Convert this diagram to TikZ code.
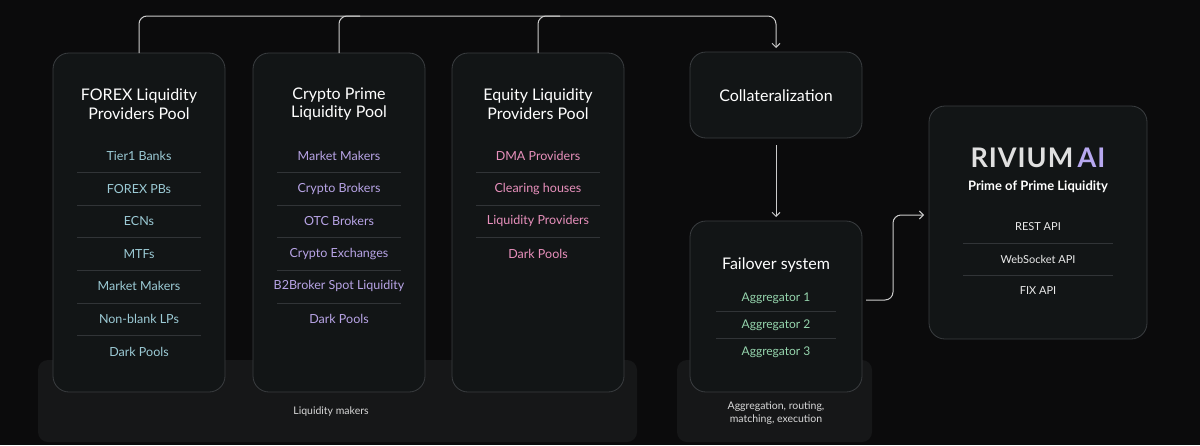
\documentclass[tikz,border=0pt]{standalone}
\usepackage{fontspec}
\setmainfont{Lato}
\usetikzlibrary{positioning, calc, arrows.meta}

\definecolor{bgc}{HTML}{0B0B0C}
\definecolor{bandc}{HTML}{161718}
\definecolor{boxc}{HTML}{121516}
\definecolor{edgec}{HTML}{3A3D40}
\definecolor{sepc}{HTML}{313437}
\definecolor{fxc}{HTML}{9CCBD6}
\definecolor{crc}{HTML}{B8A4E6}
\definecolor{eqc}{HTML}{E890BC}
\definecolor{agc}{HTML}{96D6AE}
\definecolor{aic}{HTML}{B7A8F0}

\tikzset{
  panel/.style={draw=edgec, line width=0.8pt, fill=boxc, rounded corners=16pt},
  band/.style={fill=bandc, rounded corners=10pt},
  title/.style={text=white, font=\fontsize{16}{18.5}\selectfont, align=center},
  item/.style={font=\fontsize{12.5}{14}\selectfont},
  note/.style={text=white!85!black, font=\fontsize{10.5}{12.5}\selectfont, align=center},
  link/.style={draw=white!80!black, line width=1pt, rounded corners=8pt},
}

\newcommand{\itemlist}[4]{% x, colour, prefix, list
  \foreach \t [count=\k] in {#4} {
    \node[item, text=#2] (#3\k) at (#1, {156+(\k-1)*32.6}) {\t};
  }
}

\begin{document}
\begin{tikzpicture}[x=1pt, y=-1pt]
        % Background
        \fill[bgc] (0,0) rectangle (1200,445);
        \useasboundingbox (0,0) rectangle (1200,445);

        % Bands
        \fill[band] (38,360) rectangle (637,442);
        \fill[band] (677,360) rectangle (872,442);
        \node[note] (makers) at (331,412) {Liquidity makers};
        \node[note] (aggnote) at (776,413) {Aggregation, routing,\\matching, execution};

        % Pools
        \draw[panel] (53,53) rectangle (225,392);
        \draw[panel] (253,53) rectangle (425,392);
        \draw[panel] (452,53) rectangle (624,392);
        \coordinate (fx) at (139,53);
        \coordinate (cr) at (339,53);
        \coordinate (eq) at (538,53);
        \node[title] (fxtitle) at (139,104) {FOREX Liquidity\\Providers Pool};
        \node[title] (crtitle) at (339,104) {Crypto Prime\\Liquidity Pool};
        \node[title] (eqtitle) at (538,104) {Equity Liquidity\\Providers Pool};

        \itemlist{139}{fxc}{fxi}{Tier1 Banks, FOREX PBs, ECNs, MTFs, Market Makers, Non-blank LPs, Dark Pools}
        \itemlist{339}{crc}{cri}{Market Makers, Crypto Brokers, OTC Brokers, Crypto Exchanges, B2Broker Spot Liquidity, Dark Pools}
        \itemlist{538}{eqc}{eqi}{DMA Providers, Clearing houses, Liquidity Providers, Dark Pools}

        % Separators
        \foreach \x/\n in {139/6, 339/5, 538/3} {
          \foreach \k in {1,...,\n} {
            \draw[sepc] (\x-62, {172.3+(\k-1)*32.6}) -- (\x+62, {172.3+(\k-1)*32.6});
          }
        }

        % Right side
        \draw[panel] (690,52) rectangle (862,138);
        \node[title] (coll) at (776,96) {Collateralization};
        \coordinate (collT) at (776,52);
        \coordinate (collB) at (776,145);

        \draw[panel] (690,221) rectangle (862,392);
        \node[title] (fail) at (776,265) {Failover system};
        \coordinate (failT) at (776,217);
        \coordinate (failR) at (866,300);
        \foreach \t [count=\k] in {Aggregator 1, Aggregator 2, Aggregator 3} {
          \node[item, text=agc, font=\fontsize{12}{13}\selectfont] (agg\k) at (776, {298+(\k-1)*27}) {\t};
        }
        \foreach \k in {1,2} {
          \draw[sepc] (716, {311.5+(\k-1)*27}) -- (836, {311.5+(\k-1)*27});
        }

        \draw[panel] (929,106) rectangle (1147,339);
        \coordinate (rivL) at (924,215);
        \node[text=white!88!black, font=\fontsize{27}{30}\bfseries\selectfont] (logo) at (1038,158)
          {R\kern1pt I\kern1pt V\kern1pt I\kern1pt U\kern1pt M\,\textcolor{aic}{A\kern1pt I}};
        \node[text=white, font=\fontsize{13}{15}\bfseries\selectfont] (sub) at (1038,187) {Prime of Prime Liquidity};
        \foreach \t [count=\k] in {REST API, WebSocket API, FIX API} {
          \node[item, text=white!92!black, font=\fontsize{11}{13}\selectfont] (api\k) at (1038, {227+(\k-1)*32}) {\t};
        }
        \foreach \k in {1,2} {
          \draw[sepc] (963, {243+(\k-1)*32}) -- (1113, {243+(\k-1)*32});
        }

        % Connectors
        \draw[link, -{Straight Barb[length=4pt, width=8pt]}] (fx) -- (139,16) -- (776,16) -- ($(collT)+(0,-4)$);
        \draw[link] (cr) -- (339,16) -- (360,16);
        \draw[link] (eq) -- (538,16) -- (560,16);
        \draw[link, -{Straight Barb[length=4pt, width=8pt]}] (collB) -- (failT);
        \draw[link, -{Straight Barb[length=4pt, width=8pt]}] (failR) -- (893,300) -- (893,215) -- (rivL);
\end{tikzpicture}
\end{document}
